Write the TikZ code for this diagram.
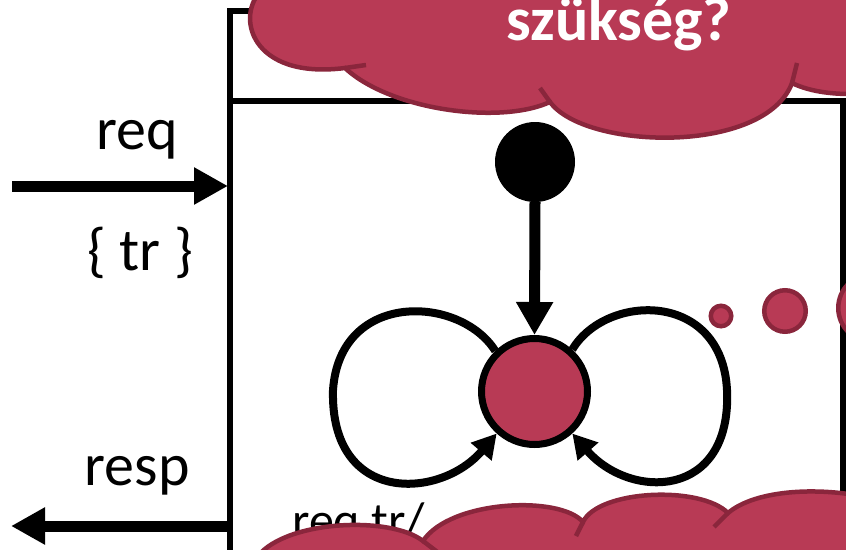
\documentclass[tikz,border=0pt]{standalone}
\usepackage{fontspec}
\setmainfont{Carlito}
\usetikzlibrary{arrows.meta}
\definecolor{cloudred}{HTML}{B83A55}
\definecolor{clouddark}{HTML}{8A263C}

\begin{document}
\begin{tikzpicture}[
    x=1pt, y=-1pt,
    box/.style={line width=5.5pt, line cap=rect, line join=miter},
    bigarrow/.style={line width=11pt, -{Triangle[length=34pt, width=35pt]}},
    transition/.style={line width=8pt, -{Triangle[length=24pt, width=26pt]}},
    initstate/.style={circle, fill=black, minimum size=80pt, inner sep=0pt, outer sep=0pt},
    state/.style={circle, draw=black, line width=7pt, fill=cloudred, minimum size=106pt, inner sep=0pt},
    portlabel/.style={font=\fontsize{60}{72}\selectfont, inner sep=0pt, anchor=base},
    thought/.style={fill=cloudred, draw=clouddark, line width=4.5pt},
    notch/.style={draw=clouddark, line width=4.5pt},
    bubble/.style={circle, fill=cloudred, draw=clouddark, line width=4.5pt, inner sep=0pt},
]
\useasboundingbox (0,0) rectangle (846,549);
\clip (0,0) rectangle (846,549);

% component frame
\draw[box] (230,560) -- (230,11) -- (880,11);
\draw[box] (230,101) -- (843,101) -- (843,560);

% ports
\node[portlabel] (req) at (137,149) {req};
\node[portlabel] (tr) at (140,270) {\{ tr \}};
\node[portlabel] (resp) at (137,485) {resp};
\node[portlabel, anchor=base west, font=\fontsize{50}{60}\selectfont] (reqtr) at (292,537) {req.tr/};

\coordinate (reqin) at (12,186);
\coordinate (reqend) at (228,186);
\coordinate (respstart) at (228,526);
\coordinate (respout) at (11,526);
\draw[bigarrow] (reqin) -- (reqend);
\draw[bigarrow] (respstart) -- (respout);

% state machine
\node[initstate] (init) at (535,162) {};
\node[state] (st) at (534.5,391.5) {};
\draw[bigarrow, -{Triangle[length=33pt, width=35pt]}] (init.south) -- (st.north);
\draw[transition] (st.134) .. controls (460,295) and (340,290) .. (333,390)
    .. controls (330,505) and (440,500) .. (st.228);
\draw[transition] (st.48) .. controls (606,293) and (722,290) .. (727,390)
    .. controls (732,500) and (630,500) .. (st.312);

% thought bubbles
\node[bubble, minimum size=20.5pt] (b1) at (721,316) {};
\node[bubble, minimum size=41.5pt] (b2) at (785,311) {};
\node[bubble, minimum size=67.5pt] (b3) at (872,308) {};

\path[thought] (262,-10) .. controls (235,15) and (250,80) .. (345,68)
    .. controls (390,110) and (500,125) .. (550,102)
    .. controls (585,150) and (765,155) .. (792,83)
    .. controls (810,92) and (840,97) .. (880,92)
    -- (880,-10) -- cycle;
\draw[notch] (345,68) -- (366,65);
\draw[notch] (550,102) -- (540,88);
\draw[notch] (792,83) -- (797,63);

\path[thought] (255,560) .. controls (280,520) and (390,515) .. (423,541)
    .. controls (450,500) and (560,495) .. (583,522)
    .. controls (598,490) and (700,485) .. (728,513)
    .. controls (755,490) and (820,485) .. (880,500)
    -- (880,560) -- cycle;
\draw[notch] (423,541) -- (440,554);
\draw[notch] (583,522) -- (576,536);
\draw[notch] (728,513) -- (714,527);

\node[anchor=base west, inner sep=0pt, text=white, font=\fontsize{62}{74}\selectfont\bfseries] (need) at (506,40) {szükség?};

\end{tikzpicture}
\end{document}
